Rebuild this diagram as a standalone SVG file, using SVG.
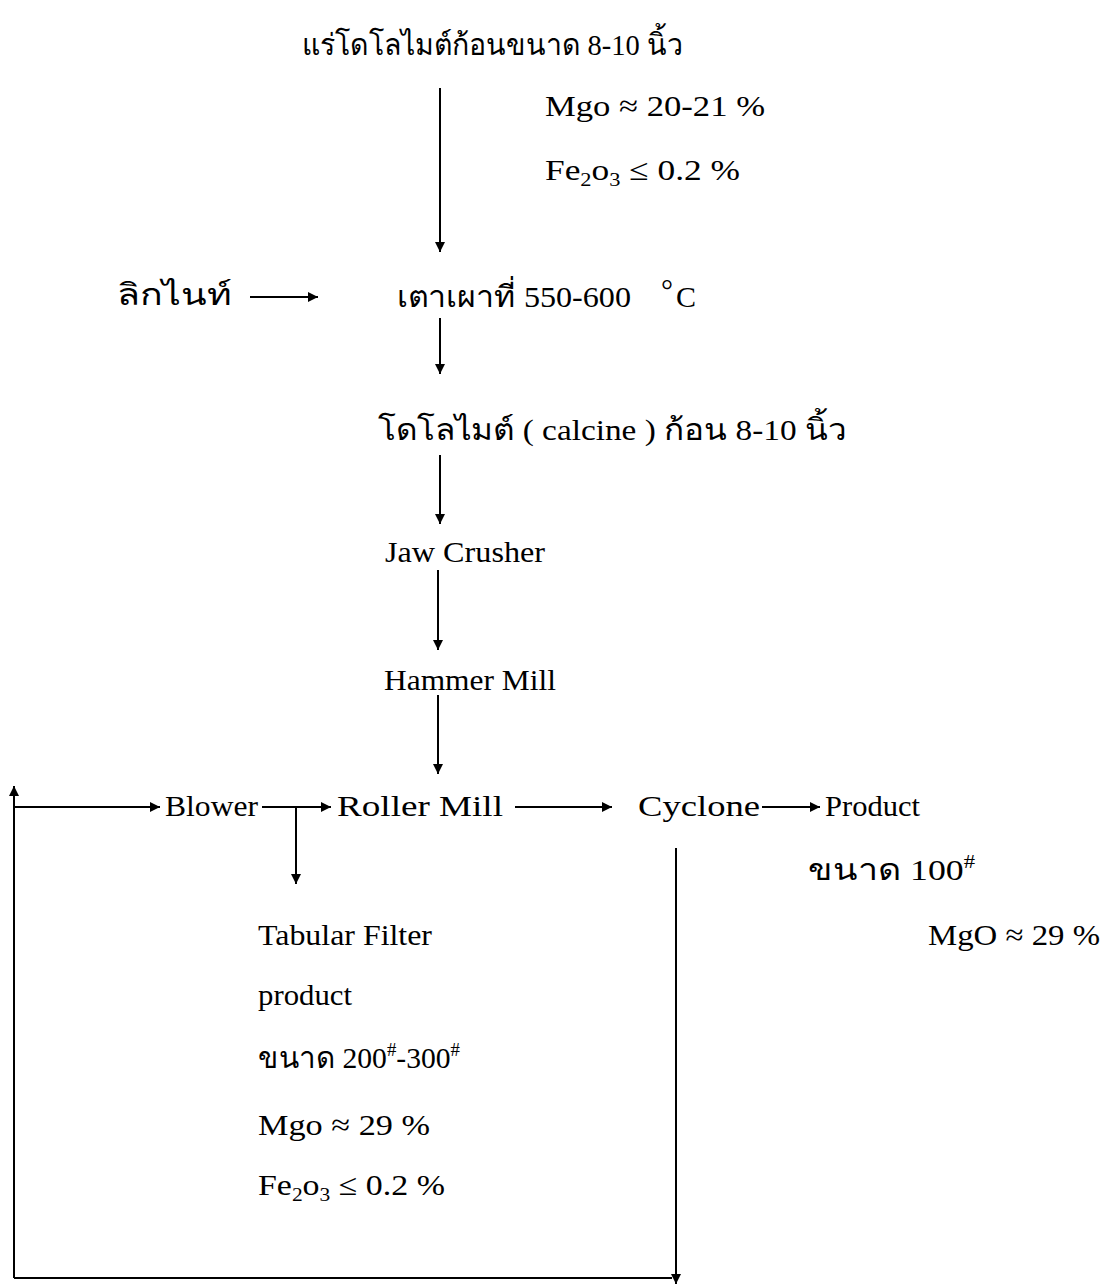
<svg xmlns="http://www.w3.org/2000/svg" width="1114" height="1286" viewBox="0 0 1114 1286">
<style>
text{font-family:"Liberation Serif","DejaVu Serif",serif;font-size:30px;fill:#000}
.th{font-family:"Liberation Serif","DejaVu Sans","Noto Sans",sans-serif;font-size:30px}
.sub{font-size:19px}
.ln{stroke:#000;stroke-width:2;fill:none}
</style>
<defs>
<marker id="ah" viewBox="0 0 10 10" refX="10" refY="5" markerWidth="10" markerHeight="10" markerUnits="userSpaceOnUse" orient="auto">
<path d="M0,0 L10,5 L0,10 Z" fill="#000"/>
</marker>
</defs>
<rect width="1114" height="1286" fill="#fff"/>
<g id="connectors">
<line class="ln" x1="440" y1="88" x2="440" y2="252" marker-end="url(#ah)"/>
<line class="ln" x1="250" y1="297" x2="318" y2="297" marker-end="url(#ah)"/>
<line class="ln" x1="440" y1="318" x2="440" y2="374" marker-end="url(#ah)"/>
<line class="ln" x1="440" y1="455" x2="440" y2="524" marker-end="url(#ah)"/>
<line class="ln" x1="438" y1="570" x2="438" y2="650" marker-end="url(#ah)"/>
<line class="ln" x1="438" y1="695" x2="438" y2="774" marker-end="url(#ah)"/>
<line class="ln" x1="14" y1="807" x2="160" y2="807" marker-end="url(#ah)"/>
<line class="ln" x1="262" y1="807" x2="331" y2="807" marker-end="url(#ah)"/>
<line class="ln" x1="296" y1="807" x2="296" y2="884" marker-end="url(#ah)"/>
<line class="ln" x1="515" y1="807" x2="612" y2="807" marker-end="url(#ah)"/>
<line class="ln" x1="762" y1="807" x2="820" y2="807" marker-end="url(#ah)"/>
<line class="ln" x1="676" y1="848" x2="676" y2="1284" marker-end="url(#ah)"/>
<line class="ln" x1="14" y1="1278" x2="14" y2="786" marker-end="url(#ah)"/>
<line class="ln" x1="14" y1="1278" x2="672" y2="1278"/>
</g>
<g id="n-ore"><text class="th" x="302" y="55" textLength="381" lengthAdjust="spacingAndGlyphs">แร่โดโลไมต์ก้อนขนาด 8-10 นิ้ว</text></g>
<g id="n-ore-spec">
<text x="545" y="116" textLength="220" lengthAdjust="spacingAndGlyphs">Mgo ≈ 20-21 %</text>
<text x="545" y="180" textLength="195" lengthAdjust="spacingAndGlyphs">Fe<tspan class="sub" dy="6">2</tspan><tspan dy="-6">o</tspan><tspan class="sub" dy="6">3</tspan><tspan dy="-6"> ≤ 0.2 %</tspan></text>
</g>
<g id="n-lignite"><text class="th" x="117" y="305" textLength="115" lengthAdjust="spacingAndGlyphs">ลิกไนท์</text></g>
<g id="n-kiln"><text class="th" x="397" y="307" textLength="234" lengthAdjust="spacingAndGlyphs">เตาเผาที่ 550-600</text><text x="661" y="300" font-size="22">°</text><text x="676" y="307">C</text></g>
<g id="n-calcine"><text class="th" x="378" y="440" textLength="469" lengthAdjust="spacingAndGlyphs">โดโลไมต์ ( calcine ) ก้อน 8-10 นิ้ว</text></g>
<g id="n-jaw"><text x="385" y="562" textLength="160" lengthAdjust="spacingAndGlyphs">Jaw Crusher</text></g>
<g id="n-hammer"><text x="384" y="690" textLength="172" lengthAdjust="spacingAndGlyphs">Hammer Mill</text></g>
<g id="n-blower"><text x="165" y="816" textLength="93" lengthAdjust="spacingAndGlyphs">Blower</text></g>
<g id="n-roller"><text x="337" y="816" textLength="166" lengthAdjust="spacingAndGlyphs">Roller Mill</text></g>
<g id="n-cyclone"><text x="638" y="816" textLength="122" lengthAdjust="spacingAndGlyphs">Cyclone</text></g>
<g id="n-product"><text x="825" y="816" textLength="95" lengthAdjust="spacingAndGlyphs">Product</text>
<text class="th" x="808" y="880" textLength="167" lengthAdjust="spacingAndGlyphs">ขนาด 100<tspan class="sub" dy="-12">#</tspan></text>
<text x="928" y="945" textLength="172" lengthAdjust="spacingAndGlyphs">MgO ≈ 29 %</text>
</g>
<g id="n-filter">
<text x="258" y="945" textLength="174" lengthAdjust="spacingAndGlyphs">Tabular Filter</text>
<text x="258" y="1005" textLength="94" lengthAdjust="spacingAndGlyphs">product</text>
<text class="th" x="258" y="1068" textLength="202" lengthAdjust="spacingAndGlyphs">ขนาด 200<tspan class="sub" dy="-12">#</tspan><tspan dy="12">-300</tspan><tspan class="sub" dy="-12">#</tspan></text>
<text x="258" y="1135" textLength="172" lengthAdjust="spacingAndGlyphs">Mgo ≈ 29 %</text>
<text x="258" y="1195" textLength="187" lengthAdjust="spacingAndGlyphs">Fe<tspan class="sub" dy="6">2</tspan><tspan dy="-6">o</tspan><tspan class="sub" dy="6">3</tspan><tspan dy="-6"> ≤ 0.2 %</tspan></text>
</g>
</svg>
